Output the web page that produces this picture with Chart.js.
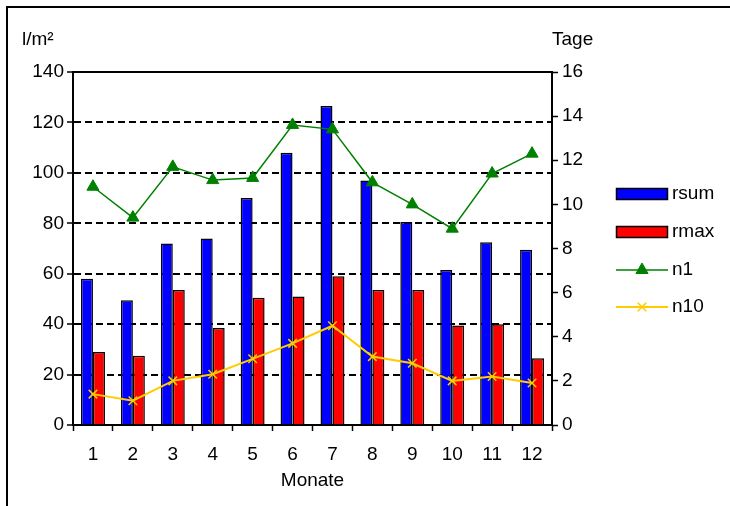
<!DOCTYPE html>
<html>
<head>
<meta charset="utf-8">
<script src="https://cdn.jsdelivr.net/npm/chart.js@4/dist/chart.umd.min.js"></script>
<style>
html, body { margin: 0; padding: 0; background: #fff; }
#wrap { position: relative; width: 730px; height: 506px; }
#frame { position: absolute; left: 6px; top: 6px; right: 0; bottom: 0; border-left: 2px solid #000; border-top: 2px solid #000; pointer-events: none; }
</style>
</head>
<body>
<div id="wrap"><canvas id="chart" width="730" height="506"></canvas><div id="frame"></div></div>
<script>
// Daten
const monate = ['1', '2', '3', '4', '5', '6', '7', '8', '9', '10', '11', '12'];
const rsum = [58, 49.5, 72, 74, 90, 108, 126.5, 97, 80.5, 61.5, 72.5, 69.5];
const rmax = [29, 27.5, 53.5, 38.5, 50.5, 51, 59, 53.5, 53.5, 39.5, 40, 26.5];
const n1 = [10.8, 9.4, 11.7, 11.1, 11.2, 13.6, 13.4, 11.0, 10.0, 8.9, 11.4, 12.3];
const n10 = [1.4, 1.1, 2.0, 2.3, 3.0, 3.7, 4.5, 3.1, 2.8, 2.0, 2.2, 1.9];
const linksMax = 140, linksStep = 20;
const rechtsMax = 16, rechtsStep = 2;

const schrift = { family: "'Liberation Sans', Arial, sans-serif", size: 19 };

// Legende, Rahmen und Achsenbeschriftungen oben
const extras = {
    id: 'extras',
    afterDraw(chart) {
        const ctx = chart.ctx;
        const a = chart.chartArea;
        ctx.save();
        ctx.strokeStyle = '#000';
        ctx.lineWidth = 2;
        ctx.strokeRect(a.left, a.top, a.right - a.left, a.bottom - a.top);

        ctx.fillStyle = '#000';
        ctx.font = `${schrift.size}px ${schrift.family}`;
        ctx.textBaseline = 'middle';
        ctx.textAlign = 'left';
        ctx.fillText('l/m²', 22, 40);
        ctx.fillText('Tage', a.right, 40);

        const reihen = [194, 232, 270, 307];
        const reihenfolge = [2, 3, 0, 1];
        reihenfolge.forEach((di, i) => {
            const ds = chart.data.datasets[di];
            const y = reihen[i];
            if (ds.type === 'bar') {
                ctx.fillStyle = ds.backgroundColor;
                ctx.fillRect(616, y - 6, 52, 12);
                ctx.lineWidth = 1.5;
                ctx.strokeStyle = '#000';
                ctx.strokeRect(616.5, y - 5.5, 51, 11);
            } else {
                ctx.strokeStyle = ds.borderColor;
                ctx.lineWidth = ds.borderWidth;
                ctx.beginPath();
                ctx.moveTo(616, y);
                ctx.lineTo(668, y);
                ctx.stroke();
                ctx.fillStyle = ds.pointBackgroundColor;
                ctx.strokeStyle = ds.pointBorderColor;
                ctx.lineWidth = ds.pointBorderWidth;
                Chart.helpers.drawPoint(ctx, { pointStyle: ds.pointStyle, radius: ds.pointRadius, rotation: 0, borderWidth: ds.pointBorderWidth }, 642, y);
            }
            ctx.fillStyle = '#000';
            ctx.fillText(ds.label, 672, y);
        });
        ctx.restore();
    }
};

const ctx = document.getElementById('chart').getContext('2d');
new Chart(ctx, {
    data: {
        labels: monate,
        datasets: [
            {
                type: 'line', label: 'n1', data: n1, yAxisID: 'y1', order: 1,
                borderColor: '#008000', borderWidth: 1.5,
                pointStyle: 'triangle', pointRadius: 7,
                pointBackgroundColor: '#008000', pointBorderColor: '#008000', pointBorderWidth: 1
            },
            {
                type: 'line', label: 'n10', data: n10, yAxisID: 'y1', order: 1,
                borderColor: '#FFCC00', borderWidth: 2,
                pointStyle: 'crossRot', pointRadius: 6,
                pointBackgroundColor: '#FFCC00', pointBorderColor: '#FFCC00', pointBorderWidth: 1.5
            },
            {
                type: 'bar', label: 'rsum', data: rsum, yAxisID: 'y', order: 2,
                backgroundColor: '#0000FF', borderColor: '#000', borderWidth: 1.5,
                barPercentage: 1, categoryPercentage: 0.6
            },
            {
                type: 'bar', label: 'rmax', data: rmax, yAxisID: 'y', order: 2,
                backgroundColor: '#FF0000', borderColor: '#000', borderWidth: 1.5,
                barPercentage: 1, categoryPercentage: 0.6
            }
        ]
    },
    options: {
        responsive: false,
        animation: false,
        devicePixelRatio: 1,
        layout: { padding: { top: 72, left: 0, right: 0, bottom: 0 } },
        plugins: { legend: { display: false }, tooltip: { enabled: false } },
        scales: {
            x: {
                grid: { drawOnChartArea: false, tickLength: 6, tickColor: '#000', tickWidth: 1.5 },
                border: { color: '#000', width: 2 },
                ticks: { color: '#000', font: schrift, padding: 12, maxRotation: 0 },
                title: { display: true, text: 'Monate', color: '#000', font: schrift, padding: { top: 0, bottom: 14 } },
                afterFit(scale) { scale.height = 81; }
            },
            y: {
                position: 'left', min: 0, max: linksMax,
                grid: {
                    color: c => (c.tick && (c.tick.value === 0 || c.tick.value === linksMax)) ? 'rgba(0,0,0,0)' : '#000',
                    lineWidth: 2, tickLength: 6, tickColor: '#000', tickWidth: 1.5
                },
                border: { color: '#000', width: 2, dash: [7, 4] },
                ticks: { stepSize: linksStep, color: '#000', font: schrift, padding: 3 },
                afterFit(scale) { scale.width = 73; }
            },
            y1: {
                position: 'right', min: 0, max: rechtsMax,
                grid: { drawOnChartArea: false, tickLength: 6, tickColor: '#000', tickWidth: 1.5 },
                border: { color: '#000', width: 2 },
                ticks: { stepSize: rechtsStep, color: '#000', font: schrift, padding: 4 },
                afterFit(scale) { scale.width = 178; }
            }
        }
    },
    plugins: [extras]
});
</script>
</body>
</html>
